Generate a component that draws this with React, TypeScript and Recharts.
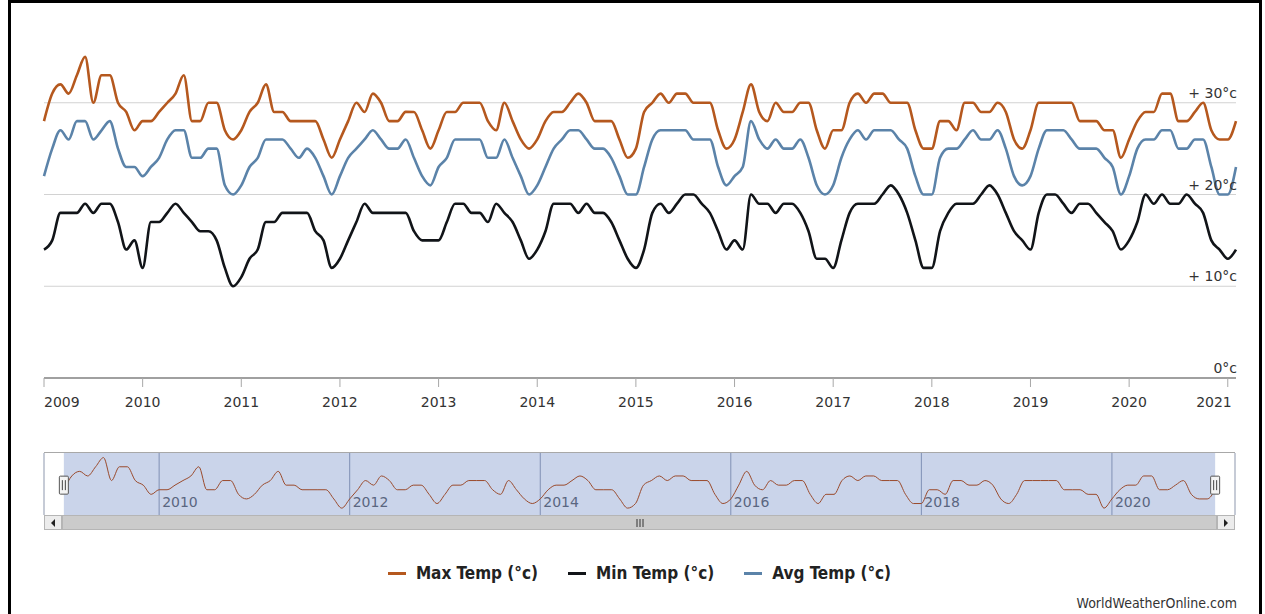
import React from 'react';
import {
  LineChart,
  ComposedChart,
  Line,
  XAxis,
  YAxis,
  CartesianGrid,
  ReferenceArea,
  ReferenceDot,
} from 'recharts';

// Monthly values, Jan 2009 .. Feb 2021 (index 0 = Jan 2009)
const maxTemp = [
  28, 31, 32, 31, 33, 35, 30, 33, 33, 30, 29, 27, 28, 28, 29, 30, 31, 33, 28, 28, 30, 30, 27, 26, 27,
  29, 30, 32, 29, 29, 28, 28, 28, 28, 26, 24, 26, 28, 30, 29, 31, 30, 28, 28, 29, 29, 27, 25, 27,
  29, 29, 30, 30, 30, 28, 27, 30, 28, 26, 25, 26, 28, 29, 29, 30, 31, 30, 28, 28, 28, 26, 24, 25, 29,
  30, 31, 30, 31, 31, 30, 30, 30, 27, 25, 26, 29, 32, 29, 28, 30, 29, 29, 30, 30, 27, 25, 27, 27,
  30, 31, 30, 31, 31, 30, 30, 30, 27, 25, 25, 28, 28, 27, 30, 30, 29, 29, 30, 29, 26, 25, 27, 30,
  30, 30, 30, 30, 28, 28, 28, 27, 27, 24, 26, 28, 29, 29, 31, 31, 28, 28, 29, 30, 27, 26, 26, 28,
];
const minTemp = [
  14, 15, 18, 18, 18, 19, 18, 19, 19, 17, 14, 15, 12, 17, 17, 18, 19, 18, 17, 16, 16, 15, 12, 10, 11,
  13, 14, 17, 17, 18, 18, 18, 18, 16, 15, 12, 13, 15, 17, 19, 18, 18, 18, 18, 18, 16, 15, 15, 15,
  17, 19, 19, 18, 18, 17, 19, 18, 17, 15, 13, 14, 16, 19, 19, 19, 18, 19, 18, 18, 17, 15, 13, 12, 14,
  18, 19, 18, 19, 20, 20, 19, 18, 16, 14, 15, 14, 20, 19, 19, 18, 19, 19, 18, 16, 13, 13, 12, 15,
  18, 19, 19, 19, 20, 21, 20, 18, 15, 12, 12, 16, 18, 19, 19, 19, 20, 21, 20, 18, 16, 15, 14, 18,
  20, 20, 19, 18, 19, 19, 18, 17, 16, 14, 15, 17, 20, 19, 20, 19, 19, 20, 19, 18, 15, 14, 13, 14,
];
const avgTemp = [
  22, 25, 27, 26, 28, 28, 26, 27, 28, 25, 23, 23, 22, 23, 24, 26, 27, 27, 24, 24, 25, 25, 21, 20, 21,
  23, 24, 26, 26, 26, 25, 24, 25, 24, 22, 20, 22, 24, 25, 26, 27, 26, 25, 25, 26, 24, 22, 21, 23,
  24, 26, 26, 26, 26, 24, 24, 26, 24, 22, 20, 21, 23, 25, 26, 27, 27, 26, 25, 25, 24, 22, 20, 20, 23,
  26, 27, 27, 27, 27, 26, 26, 26, 23, 21, 22, 23, 28, 26, 25, 26, 25, 25, 26, 24, 21, 20, 21, 24,
  26, 27, 26, 27, 27, 27, 26, 25, 22, 20, 20, 24, 25, 25, 26, 27, 26, 26, 27, 25, 22, 21, 22, 25,
  27, 27, 27, 26, 25, 25, 25, 24, 23, 20, 22, 25, 26, 26, 27, 27, 25, 25, 26, 26, 23, 20, 20, 23,
];

const yearTickLabels = ['2009', '2010', '2011', '2012', '2013', '2014', '2015', '2016', '2017', '2018', '2019', '2020', '2021'];
const yTickValues = [0, 10, 20, 30];
const yTickLabels = ['0°c', '+ 10°c', '+ 20°c', '+ 30°c'];
const gridValues = [10, 20, 30];
const navTickLabels = ['2010', '2012', '2014', '2016', '2018', '2020'];

const seriesMeta = [
  { key: 'max', name: 'Max Temp (°c)', color: '#b5581e' },
  { key: 'min', name: 'Min Temp (°c)', color: '#111418' },
  { key: 'avg', name: 'Avg Temp (°c)', color: '#5b83a9' },
];
const creditText = 'WorldWeatherOnline.com';

const data = maxTemp.map((v, i) => ({ i, max: v, min: minTemp[i], avg: avgTemp[i] }));
const lastIndex = data.length - 1;
const yearTicks = yearTickLabels.map((_, k) => k * 12);
const navTicks = navTickLabels.map((_, k) => 12 + k * 24);

const AXIS_FONT = "'DejaVu Sans', Verdana, sans-serif";
const COND_FONT = "'DejaVu Sans Condensed', 'DejaVu Sans', sans-serif";

const YearTick = (props: any) => {
  const { x, y, payload } = props;
  const k = Math.round(payload.value / 12);
  const anchor = k === 0 ? 'start' : k === yearTickLabels.length - 1 ? 'end' : 'middle';
  const dx = k === yearTickLabels.length - 1 ? 4 : 0;
  return (
    <text x={x + dx} y={y} dy="0.71em" textAnchor={anchor} fill="#333" fontSize={14} fontFamily={AXIS_FONT}>
      {yearTickLabels[k]}
    </text>
  );
};

const TempTick = (props: any) => {
  const { x, y, payload } = props;
  const idx = yTickValues.indexOf(payload.value);
  if (idx < 0) return <g />;
  return (
    <text x={x + 1} y={y - 5} textAnchor="end" fill="#333" fontSize={14} fontFamily={AXIS_FONT}>
      {yTickLabels[idx]}
    </text>
  );
};

const NavTick = (props: any) => {
  const { x, y, payload } = props;
  const k = Math.round((payload.value - 12) / 24);
  return (
    <text x={x + 3} y={y - 8} textAnchor="start" fill="#5a6680" fontSize={14} fontFamily={AXIS_FONT}>
      {navTickLabels[k]}
    </text>
  );
};

const Handle = (props: any) => {
  const { cx, cy } = props;
  return (
    <g>
      <rect x={cx - 4.5} y={cy - 9} width={9} height={18} fill="#f4f4f4" stroke="#555" strokeWidth={1} rx={1} />
      <line x1={cx - 1.5} y1={cy - 5} x2={cx - 1.5} y2={cy + 5} stroke="#444" strokeWidth={1} />
      <line x1={cx + 1.5} y1={cy - 5} x2={cx + 1.5} y2={cy + 5} stroke="#444" strokeWidth={1} />
    </g>
  );
};

export default function App() {
  return (
    <div style={{ position: 'absolute', left: 0, top: 0, width: 1265, height: 614, overflow: 'hidden', background: '#fff' }}>
      {/* main chart */}
      <div style={{ position: 'absolute', left: 0, top: 0 }}>
        <LineChart width={1265} height={430} data={data} margin={{ top: 11, right: 29, left: 44, bottom: 12 }}>
          <CartesianGrid vertical={false} stroke="#d2d2d2" horizontalValues={gridValues} />
          <XAxis
            dataKey="i"
            type="number"
            domain={[0, lastIndex]}
            ticks={yearTicks}
            interval={0}
            height={40}
            tick={<YearTick />}
            tickSize={9}
            tickMargin={10}
            tickLine={{ stroke: '#a8a8a8' }}
            axisLine={{ stroke: '#a0a0a0', strokeWidth: 2 }}
          />
          <YAxis
            orientation="right"
            mirror
            width={1}
            domain={[0, 40]}
            ticks={yTickValues}
            interval={0}
            axisLine={false}
            tickLine={false}
            tickSize={0}
            tickMargin={0}
            tick={<TempTick />}
          />
          {seriesMeta.map((s) => (
            <Line
              key={s.key}
              dataKey={s.key}
              name={s.name}
              type="monotone"
              stroke={s.color}
              strokeWidth={2.6}
              dot={false}
              activeDot={false}
              isAnimationActive={false}
            />
          ))}
        </LineChart>
      </div>

      {/* navigator outline */}
      <div style={{ position: 'absolute', left: 44, top: 452, width: 1191, height: 0, borderTop: '1px solid #a8a8a8' }} />
      {/* navigator */}
      <div style={{ position: 'absolute', left: 0, top: 453 }}>
        <ComposedChart width={1265} height={63} data={data} margin={{ top: 0, right: 30, left: 44, bottom: 0 }}>
          <ReferenceArea x1={0} x2={lastIndex} fill="#6685c2" fillOpacity={0.35} stroke="none" ifOverflow="visible" />
          <CartesianGrid horizontal={false} stroke="#8d97ad" />
          <XAxis
            dataKey="i"
            type="number"
            domain={[-2.5, lastIndex + 2.5]}
            allowDataOverflow
            ticks={navTicks}
            interval={0}
            height={1}
            axisLine={false}
            tickLine={false}
            tickSize={0}
            tickMargin={0}
            tick={<NavTick />}
          />
          <YAxis hide domain={[22.5, 36]} allowDataOverflow />
          <Line
            dataKey="max"
            type="monotone"
            stroke="#9a4a2c"
            strokeWidth={1}
            dot={false}
            activeDot={false}
            isAnimationActive={false}
          />
          <ReferenceDot x={0} y={29} r={0} shape={<Handle />} ifOverflow="visible" />
          <ReferenceDot x={lastIndex} y={29} r={0} shape={<Handle />} ifOverflow="visible" />
        </ComposedChart>
      </div>

      {/* scrollbar */}
      <div style={{ position: 'absolute', left: 44, top: 515, width: 1191, height: 15, background: '#eeeeee', border: '1px solid #bbb', boxSizing: 'border-box' }} />
      <div style={{ position: 'absolute', left: 62, top: 515, width: 1155, height: 15, background: '#cbcbcb', border: '1px solid #b5b5b5', boxSizing: 'border-box', display: 'flex', alignItems: 'center', justifyContent: 'center' }}>
        <svg width={10} height={8}>
          <line x1={2} y1={0} x2={2} y2={8} stroke="#333" />
          <line x1={5} y1={0} x2={5} y2={8} stroke="#333" />
          <line x1={8} y1={0} x2={8} y2={8} stroke="#333" />
        </svg>
      </div>
      <div style={{ position: 'absolute', left: 44, top: 515, width: 18, height: 15, background: '#ececec', border: '1px solid #b5b5b5', boxSizing: 'border-box', display: 'flex', alignItems: 'center', justifyContent: 'center' }}>
        <svg width={6} height={8}><path d="M5 0 L1 4 L5 8 Z" fill="#222" /></svg>
      </div>
      <div style={{ position: 'absolute', left: 1217, top: 515, width: 18, height: 15, background: '#ececec', border: '1px solid #b5b5b5', boxSizing: 'border-box', display: 'flex', alignItems: 'center', justifyContent: 'center' }}>
        <svg width={6} height={8}><path d="M1 0 L5 4 L1 8 Z" fill="#222" /></svg>
      </div>

      {/* legend */}
      <div style={{ position: 'absolute', left: 44, top: 563, width: 1191, display: 'flex', justifyContent: 'center', alignItems: 'center', gap: 30 }}>
        {seriesMeta.map((s) => (
          <div key={s.key} style={{ display: 'flex', alignItems: 'center', gap: 10 }}>
            <div style={{ width: 18, height: 3, background: s.color }} />
            <span style={{ fontFamily: COND_FONT, fontWeight: 'bold', fontSize: 17, color: '#222', fontStretch: 'condensed' }}>{s.name}</span>
          </div>
        ))}
      </div>

      {/* credits */}
      <div style={{ position: 'absolute', right: 1265 - 1237, top: 595, fontFamily: COND_FONT, fontSize: 14, color: '#333', whiteSpace: 'nowrap' }}>
        {creditText}
      </div>

      {/* outer frame */}
      <div
        style={{
          position: 'absolute',
          left: 8,
          top: 0,
          width: 1254,
          height: 640,
          border: '3px solid #000',
          boxSizing: 'border-box',
          pointerEvents: 'none',
        }}
      />
    </div>
  );
}
